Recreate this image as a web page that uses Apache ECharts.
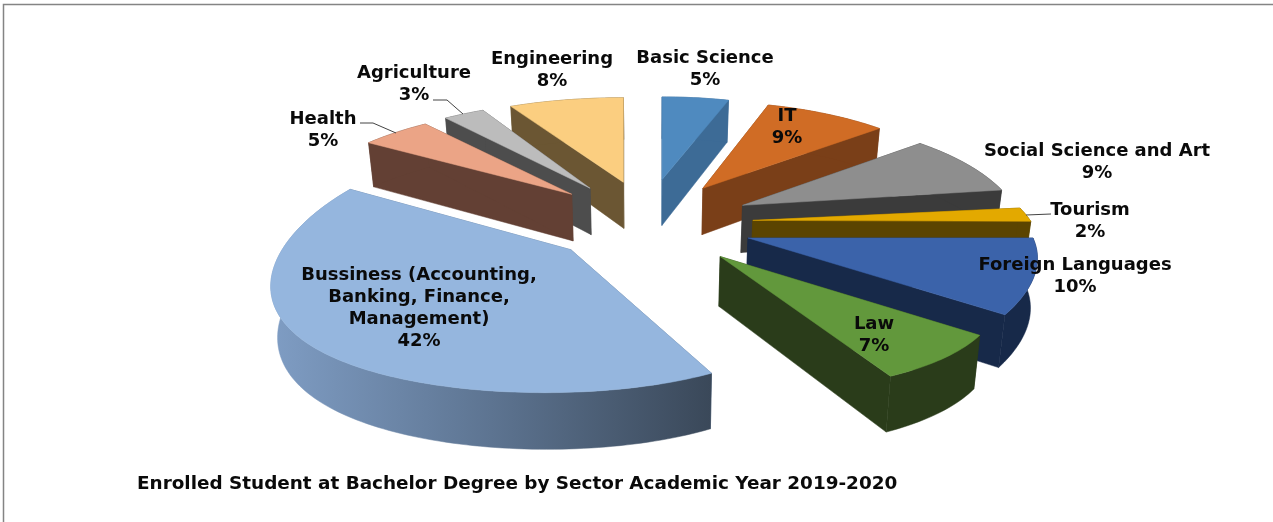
<!DOCTYPE html>
<html><head><meta charset="utf-8">
<style>html,body{margin:0;padding:0;background:#fff}#c{width:1273px;height:522px}</style>
<script src="https://cdn.jsdelivr.net/npm/echarts@6/dist/echarts.min.js"></script>
</head><body><div id="c"></div>
<script>
// ---- data (clockwise from 12 o'clock) ----
const sectors = ['Basic Science','IT','Social Science and Art','Tourism','Foreign Languages','Law',
  'Bussiness (Accounting,\nBanking, Finance,\nManagement)','Health','Agriculture','Engineering'];
const shares = [5,9,9,2,10,7,42,5,3,8];
const chartTitle = 'Enrolled Student at Bachelor Degree by Sector Academic Year 2019-2020';

// ---- styles and layout ----
const topColors  = ['#4f8abf','#d06c25','#8e8e8e','#e3a900','#3b63aa','#62983c','#95b6de','#eba486','#bcbcbc','#fbce80'];
const wallColors = ['#3d6b96','#7a3f18','#3b3b3b','#5b4400','#172949','#2a3c1a','#5f7693','#634034','#4d4d4d','#6b5633'];
const labelAnchors = [[705,58],[787,116],[1097,151],[1090,210],[1075,265],[874,324],[419,275],[323,119],[414,73],[552,59]];
const leaders = [
  [[1026,215],[1051,214]],
  [[433,100],[447,100],[463,114]],
  [[360,123],[373,123],[396,133]]
];
const CX=650, CY=222, EX=103, EY=42, R=270, RY=110, P=0.27;
// per-slice fine offsets of apex and rim, because the source's perspective is not a pure projection
const apexNudge = [[-4,-1],[-5,1],[-2,0],[0,1],[0,3],[2,3],[-4,-1],[-1,0],[-2,1],[-1,1]];
const rimNudge  = [[0,4],[-1,0],[0,-2],[8,1],[0,0],[0,0],[-26,2],[-4,0],[-2,0],[0,2]];
const rimShape  = {6:{r:264,ry:124,py:0.12}, 5:{ry:129,py:0.064}, 9:{r:289}, 4:{r:285,px:0.175}};

const total = shares.reduce((a,b)=>a+b,0);
const starts = []; shares.reduce((acc,v,i)=>{starts[i]=acc; return acc+v;},0);
const toRad = s => s/total*2*Math.PI;
const order = shares.map((_,i)=>i).sort((a,b)=>
  Math.cos(toRad(starts[b]+shares[b]/2)) - Math.cos(toRad(starts[a]+shares[a]/2)));

function rimPoint(apx, th, i){
  const s=rimShape[i]||{}, nudge=rimNudge[i];
  const u=Math.sin(th), v=Math.cos(th);
  const wx=1+(s.px===undefined?P:s.px)*v, wy=1+(s.py===undefined?P:s.py)*v;
  return [apx[0]+nudge[0]+(s.r||R)*u/wx, apx[1]+nudge[1]-(s.ry||RY)*v/wy];
}
function drop(p){
  return [CX+(p[0]-CX)*0.982, p[1]+48+(p[1]-220)*0.05];
}
function renderSlice(params, api){
  const i=api.value(0), share=api.value(1);
  const a0=toRad(starts[i]), a1=toRad(starts[i]+share), m=(a0+a1)/2;
  const apex=[CX+EX*Math.sin(m)+apexNudge[i][0], CY-EY*Math.cos(m)+apexNudge[i][1]];
  const n=Math.max(6,Math.round(share*3));
  const rim=[];
  for(let k=0;k<=n;k++){ rim.push(rimPoint(apex,a0+(a1-a0)*k/n,i)); }
  const rimB=rim.map(drop), apexB=drop(apex);
  const first=rim[0], last=rim[n];
  const wallFill = i===6
    ? new echarts.graphic.LinearGradient(0,0,1,0,[{offset:0,color:'#7f9dc4'},{offset:0.5,color:'#5d7491'},{offset:1,color:'#3a4859'}])
    : wallColors[i];
  const poly=(pts,fill)=>({type:'polygon',shape:{points:pts},style:{fill:fill,stroke:fill,lineWidth:0.5}});
  return {type:'group',children:[
    poly([apex,first,rimB[0],apexB],wallColors[i]),
    poly([apex,last,rimB[n],apexB],wallColors[i]),
    poly(rim.concat(rimB.slice().reverse()),wallFill),
    poly([apex].concat(rim),topColors[i])
  ]};
}
const FONT='bold 18px "DejaVu Sans"';
function renderLabel(params, api){
  const i=api.value(0);
  const lines=sectors[i].split('\n').concat(api.value(1)+'%');
  const pos=labelAnchors[i];
  return {type:'group',children:lines.map((t,k)=>({type:'text',
    style:{text:t,x:pos[0],y:pos[1]+k*22,align:'center',verticalAlign:'middle',
      font:FONT,fill:'#0a0a0a'}}))};
}

const chart=echarts.init(document.getElementById('c'),null,{renderer:'canvas'});
chart.setOption({
  animation:false,
  backgroundColor:'#ffffff',
  graphic:[
    {type:'polyline',z:1,shape:{points:[[3.5,522],[3.5,4.5],[1273,4.5]]},style:{fill:null,stroke:'#848484',lineWidth:1.5}},
    ...leaders.map(pts=>({type:'polyline',z:20,shape:{points:pts},style:{fill:null,stroke:'#444',lineWidth:1}})),
    {type:'text',z:20,style:{text:chartTitle,x:137,y:484,verticalAlign:'middle',font:'bold 18.4px "DejaVu Sans"',fill:'#0a0a0a'}}
  ],
  series:[
    {type:'custom',coordinateSystem:'none',z:5,silent:true,renderItem:renderSlice,
     data:order.map(i=>[i,shares[i]])},
    {type:'custom',coordinateSystem:'none',z:10,silent:true,renderItem:renderLabel,
     data:shares.map((v,i)=>[i,v])}
  ]
});
</script></body></html>
